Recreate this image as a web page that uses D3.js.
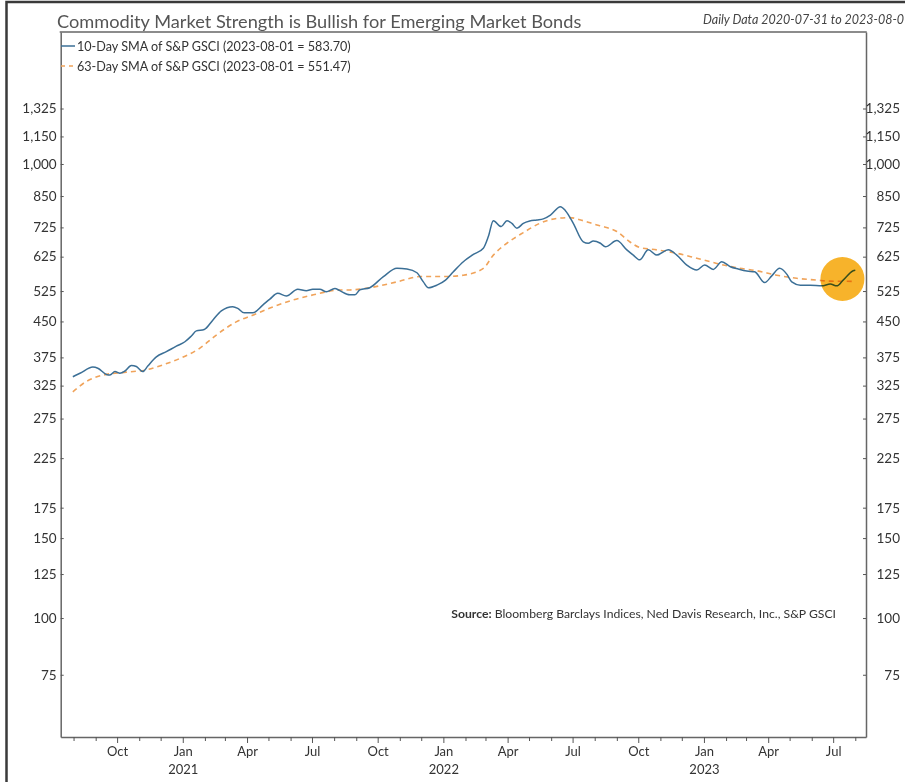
<!DOCTYPE html>
<html>
<head>
<meta charset="utf-8">
<script src="https://cdn.jsdelivr.net/npm/d3@7"></script>
<style>
  body { margin: 0; background: #fff; }
  text { font-family: Lato, "Open Sans", sans-serif; }
</style>
</head>
<body>
<div id="chart"></div>
<script>
// 10-day SMA of S&P GSCI
var dates10 = ["2020-07-31","2020-08-10","2020-08-28","2020-09-04","2020-09-16","2020-09-21","2020-09-28","2020-10-05",
  "2020-10-12","2020-10-21","2020-10-28","2020-11-06","2020-11-13","2020-11-25","2020-12-09","2020-12-23",
  "2021-01-04","2021-01-13","2021-01-20","2021-01-31","2021-02-12","2021-02-24","2021-03-12","2021-03-19",
  "2021-03-28","2021-04-09","2021-04-23","2021-05-03","2021-05-14","2021-05-26","2021-06-11","2021-06-23",
  "2021-07-02","2021-07-12","2021-07-21","2021-08-02","2021-08-09","2021-08-23","2021-08-30","2021-09-06",
  "2021-09-20","2021-10-09","2021-10-28","2021-11-11","2021-11-25","2021-12-04","2021-12-11","2021-12-23",
  "2022-01-04","2022-01-15","2022-01-29","2022-02-12","2022-02-26","2022-03-05","2022-03-12","2022-03-23",
  "2022-03-31","2022-04-07","2022-04-14","2022-04-23","2022-05-02","2022-05-12","2022-05-21","2022-05-31",
  "2022-06-14","2022-06-21","2022-07-02","2022-07-16","2022-07-23","2022-07-30","2022-08-09","2022-08-16",
  "2022-09-01","2022-09-15","2022-09-24","2022-10-03","2022-10-15","2022-10-27","2022-11-12","2022-11-24",
  "2022-12-08","2022-12-22","2023-01-02","2023-01-14","2023-01-26","2023-02-07","2023-02-18","2023-03-02",
  "2023-03-13","2023-03-27","2023-04-06","2023-04-17","2023-04-27","2023-05-04","2023-05-16","2023-05-30",
  "2023-06-15","2023-06-27","2023-07-06","2023-07-15","2023-07-29","2023-08-01"];
var values10 = [340,346,357,355,344,343,349,346,
  350,360,358,349,359,376,386,397,
  406,418,429,432,453,475,485,481,
  470,470,489,504,519,512,530,526,
  530,530,523,532,526,515,515,528,
  534,565,589,587,576,550,534,541,
  555,579,609,632,652,692,750,728,
  750,740,722,740,749,753,757,772,
  805,789,740,674,669,677,669,657,
  678,647,630,615,647,630,647,630,
  599,584,599,586,609,594,587,581,
  579,548,567,589,572,550,541,541,
  539,544,539,555,582,583.70];

// 63-day SMA of S&P GSCI
var dates63 = ["2020-07-31","2020-08-19","2020-09-12","2020-10-14","2020-11-11","2020-12-04","2020-12-28","2021-01-25",
  "2021-02-17","2021-03-17","2021-04-10","2021-05-08","2021-06-05","2021-07-03","2021-07-21","2021-08-09",
  "2021-08-23","2021-09-20","2021-10-28","2021-11-30","2022-01-02","2022-01-29","2022-02-26","2022-03-12",
  "2022-03-31","2022-04-23","2022-05-16","2022-06-09","2022-06-27","2022-07-16","2022-08-04","2022-08-13",
  "2022-09-01","2022-09-19","2022-10-03","2022-10-27","2022-11-24","2022-12-22","2023-01-19","2023-02-16",
  "2023-03-16","2023-04-13","2023-05-11","2023-06-08","2023-06-27","2023-08-01"];
var values63 = [315,332,343,348,352,361,373,393,
  420,449,465,485,502,515,523,528,
  528,534,550,565,565,569,589,630,
  669,706,740,759,762,750,734,728,
  710,674,655,647,636,620,604,591,
  582,569,560,555,552,551.47];

var yTicks = [75,100,125,150,175,225,275,325,375,450,525,625,725,850,1000,1150,1325];
var monthNames = ["Jan","Feb","Mar","Apr","May","Jun","Jul","Aug","Sep","Oct","Nov","Dec"];
var highlight = {date: "2023-07-14", value: 558};

var W = 905, H = 782;
var plotL = 60.7, plotR = 866, plotT = 32, plotB = 737;
var parse = d3.utcParse("%Y-%m-%d");

var svg = d3.select("#chart").append("svg").attr("width", W).attr("height", H);

// outer frame
svg.append("path")
    .attr("d", "M6.5,782 L6.5,2 L905,2")
    .attr("fill", "none").attr("stroke", "#3a3a3a").attr("stroke-width", 2.5);

var x = d3.scaleUtc()
    .domain([parse("2020-07-14"), parse("2023-08-16")])
    .range([plotL, plotR]);
var y = d3.scaleLog()
    .domain([54.7, 1953])
    .range([plotB, plotT]);

// title
svg.append("text")
    .attr("x", 57).attr("y", 28)
    .style("font-size", "18.2px").style("fill", "#555")
    .text("Commodity Market Strength is Bullish for Emerging Market Bonds");

svg.append("text")
    .attr("x", 703).attr("y", 24)
    .style("font-size", "12.5px").style("font-style", "italic").style("fill", "#444")
    .text("Daily Data 2020-07-31 to 2023-08-01");

// y axes, ticks pointing inwards
var fmt = d3.format(",");
var yl = svg.append("g").attr("transform", "translate(" + plotL + ",0)")
    .call(d3.axisRight(y).tickValues(yTicks).tickFormat(fmt).tickSize(3).tickSizeOuter(0));
yl.selectAll("text").attr("x", -4).style("text-anchor", "end");
var yr = svg.append("g").attr("transform", "translate(" + plotR + ",0)")
    .call(d3.axisLeft(y).tickValues(yTicks).tickFormat(fmt).tickSize(3).tickSizeOuter(0));
yr.selectAll("text").attr("x", 34).style("text-anchor", "end");

// x axis: a tick every month, labels on quarters
var months = d3.utcMonth.range(parse("2020-08-01"), parse("2023-08-02"));
var xa = svg.append("g").attr("transform", "translate(0," + plotB + ")")
    .call(d3.axisBottom(x).tickValues(months).tickSize(4).tickSizeOuter(0)
      .tickFormat(function (d) { return d.getUTCMonth() % 3 === 0 ? monthNames[d.getUTCMonth()] : ""; }));
xa.selectAll(".tick line").attr("y2", function (d) { return d.getUTCMonth() % 3 === 0 ? 6 : 4; });
xa.selectAll(".tick text").attr("y", 10);
xa.selectAll(".tick").filter(function (d) { return d.getUTCMonth() === 0; })
  .select("text").append("tspan")
    .attr("x", 0).attr("dy", "1.35em")
    .text(function (d) { return d.getUTCFullYear(); });

[yl, yr, xa].forEach(function (g) {
  g.selectAll("path.domain").attr("stroke", "#666").attr("stroke-width", 1.5);
  g.selectAll(".tick line").attr("stroke", "#555");
  g.selectAll("text").style("font-size", "13px").style("fill", "#333").style("font-family", "Lato, sans-serif");
});
yl.selectAll("text").style("font-size", "13.5px");
yr.selectAll("text").style("font-size", "13.5px");

// top border of plot
svg.append("line")
    .attr("x1", plotL - 1).attr("x2", plotR + 0.75).attr("y1", plotT).attr("y2", plotT)
    .attr("stroke", "#666").attr("stroke-width", 1.5);

// lines
var line = d3.line()
    .x(function (d) { return x(d[0]); })
    .y(function (d) { return y(d[1]); })
    .curve(d3.curveMonotoneX);

var d63 = dates63.map(function (d, i) { return [parse(d), values63[i]]; });
var d10 = dates10.map(function (d, i) { return [parse(d), values10[i]]; });

svg.append("path").datum(d63)
    .attr("d", line).attr("fill", "none")
    .attr("stroke", "#f0a35a").attr("stroke-width", 1.6)
    .attr("stroke-dasharray", "5,4");
svg.append("path").datum(d10)
    .attr("d", line).attr("fill", "none")
    .attr("stroke", "#3b6f96").attr("stroke-width", 1.5);

// highlight circle
svg.append("circle")
    .attr("cx", x(parse(highlight.date))).attr("cy", y(highlight.value))
    .attr("r", 22)
    .attr("fill", "#f7b32b")
    .style("mix-blend-mode", "multiply");

// legend
var legend = [
  {label: "10-Day SMA of S&P GSCI (2023-08-01 = 583.70)", color: "#3b6f96", dash: null},
  {label: "63-Day SMA of S&P GSCI (2023-08-01 = 551.47)", color: "#f0a35a", dash: "4,4"}
];
var lg = svg.selectAll("g.legend").data(legend).enter().append("g")
    .attr("class", "legend")
    .attr("transform", function (d, i) { return "translate(0," + (46 + i * 20) + ")"; });
lg.append("line")
    .attr("x1", 61).attr("x2", 75).attr("y1", 0).attr("y2", 0)
    .attr("stroke", function (d) { return d.color; })
    .attr("stroke-width", 1.5)
    .attr("stroke-dasharray", function (d) { return d.dash; });
lg.append("text")
    .attr("x", 77).attr("y", 4.5)
    .style("font-size", "12.6px").style("fill", "#333")
    .text(function (d) { return d.label; });

// source note
var src = svg.append("text")
    .attr("x", 836).attr("y", 618)
    .style("text-anchor", "end")
    .style("font-size", "12.2px").style("fill", "#333");
src.append("tspan").style("font-weight", "bold").text("Source:");
src.append("tspan").text(" Bloomberg Barclays Indices, Ned Davis Research, Inc., S&P GSCI");
</script>
</body>
</html>
